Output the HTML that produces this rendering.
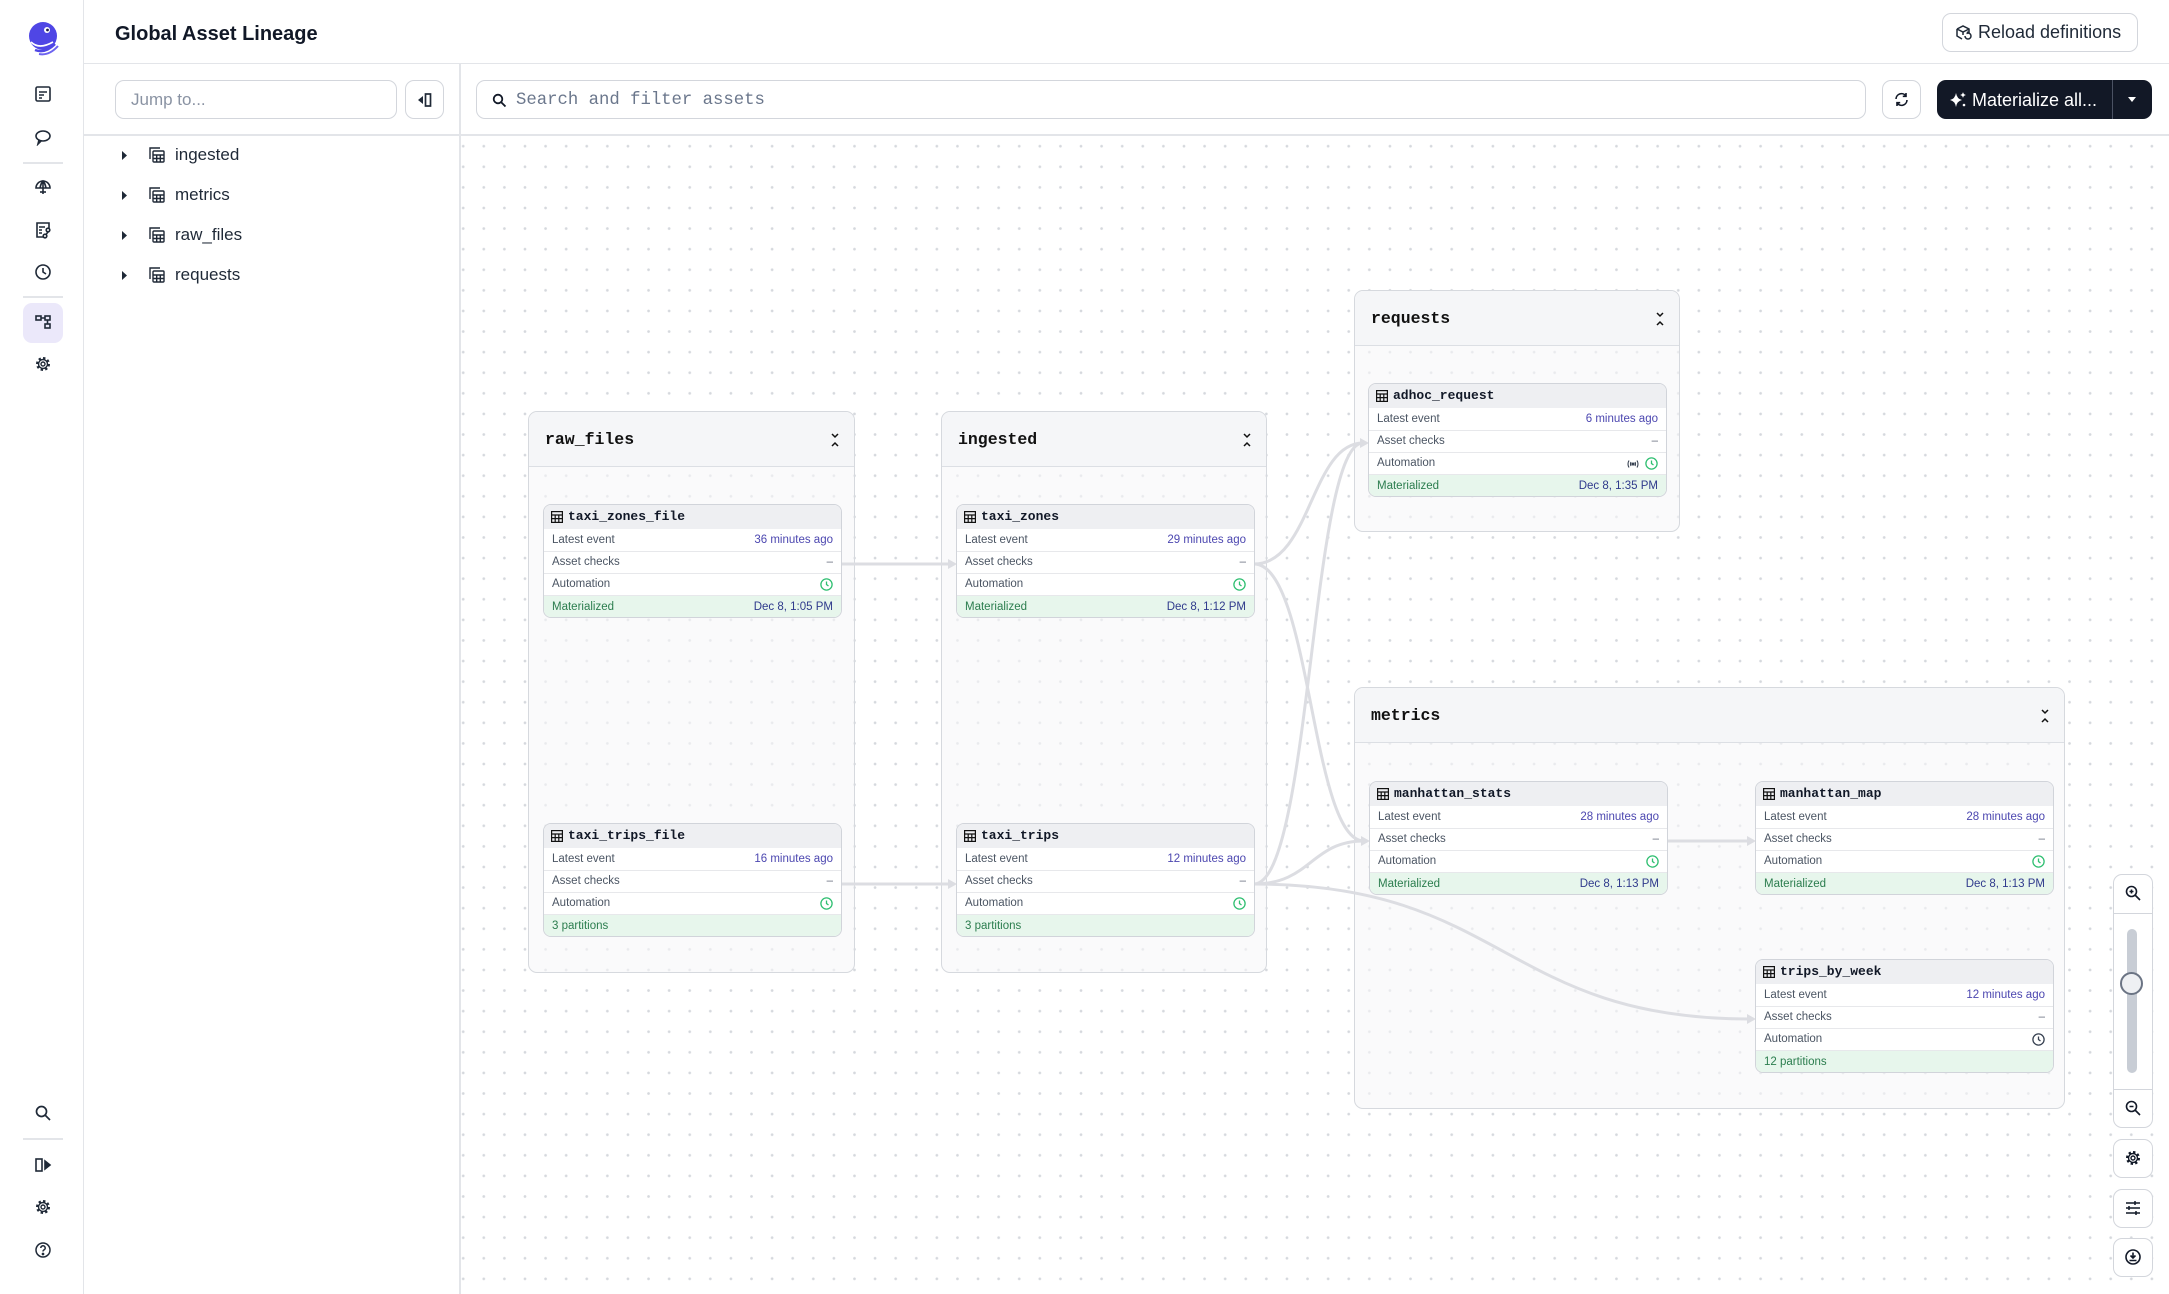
<!DOCTYPE html>
<html><head><meta charset="utf-8"><style>
*{box-sizing:border-box;margin:0;padding:0}
body{width:2169px;height:1294px;overflow:hidden;background:#fff;font-family:"Liberation Sans",sans-serif;color:#111827;position:relative}
.abs{position:absolute}
.side{left:0;top:0;width:84px;height:1294px;border-right:1.5px solid #e3e5e9;background:#fff}
.sep{position:absolute;left:23px;width:40px;height:1.5px;background:#e3e5e9}
.hdr{left:84px;top:0;right:0;height:64px;border-bottom:1.5px solid #e3e5e9}
.title{left:115px;top:23px;font-size:20px;font-weight:bold;color:#111827;letter-spacing:0}
.btn{position:absolute;border:1.5px solid #d3d6dc;border-radius:9px;background:#fff}
.tree{position:absolute;left:84px;width:376px;height:40px;font-size:17px;color:#1f2937}
.graph{left:461px;top:136px;width:1708px;height:1158px;background-image:radial-gradient(circle,#d5d8dd 1.1px,transparent 1.6px);background-size:20.6px 20.6px;background-position:-8.1px -0.1px}
.grp{position:absolute;border:1.5px solid #d6d9de;border-radius:9px;background:rgba(246,247,249,0.6);overflow:hidden}
.gh{height:55px;background:#f5f6f8;border-bottom:1.5px solid #dcdfe4;font-family:"Liberation Mono",monospace;font-weight:bold;font-size:16.5px;padding-left:16px;line-height:55px;color:#111;position:relative}
.gh svg{position:absolute;right:14px;top:21px}
.node{position:absolute;width:299px;height:114px;border:1.5px solid #d1d4da;border-radius:8px;background:#fff;overflow:hidden}
.nh{height:23.5px;background:#eeeff2;font-family:"Liberation Mono",monospace;font-weight:bold;font-size:13px;line-height:24px;padding-left:24px;position:relative;color:#111827}
.nh svg{position:absolute;left:7px;top:6px}
.row{height:22px;border-top:1px solid #e7e8eb;font-size:11.5px;line-height:21px;padding:1px 8px 0;display:flex;justify-content:space-between;align-items:center;color:#4b5563}
.row .t{color:#4c47b0}
.row .d{color:#6b7280}
.st{background:#e7f6ec;color:#2b7d4e;height:24px}
.st .dt{color:#2f3a8c}
</style></head><body>

<!-- Sidebar -->
<div class="abs side">
  <svg class="abs" style="left:25px;top:20px" width="36" height="36" viewBox="0 0 36 36">
    <circle cx="18" cy="16" r="14" fill="#4f46e5"/>
    <circle cx="22" cy="10" r="3" fill="#fff"/><circle cx="22.5" cy="10" r="1.4" fill="#1e1b4b"/>
    <path d="M6 22 Q14 30 28 22" stroke="#fff" stroke-width="1.6" fill="none"/>
    <path d="M10 30 Q20 34 30 24" stroke="#4f46e5" stroke-width="2.5" fill="none"/>
    <path d="M14 34 Q24 36 33 26" stroke="#6d63f0" stroke-width="2" fill="none"/>
  </svg>
  <svg class="abs" style="left:34px;top:85px" width="18" height="18" viewBox="0 0 18 18" fill="none" stroke="#1f2937" stroke-width="1.6"><rect x="2" y="2" width="14" height="14" rx="1.5"/><path d="M5 7h8M5 10h5M5 13h3"/></svg>
  <svg class="abs" style="left:34px;top:128px" width="18" height="18" viewBox="0 0 18 18" fill="none" stroke="#1f2937" stroke-width="1.6"><ellipse cx="9" cy="8" rx="7" ry="5"/><path d="M5 12 L4 16 L7 13"/></svg>
  <div class="sep" style="top:162px"></div>
  <svg class="abs" style="left:34px;top:178px" width="18" height="18" viewBox="0 0 18 18" fill="none" stroke="#1f2937" stroke-width="1.6"><path d="M2 10 A7 7 0 0 1 16 10 Z"/><path d="M9 3 V16 M6 10 Q7 5 9 3 Q11 5 12 10"/><path d="M6 14 h6"/></svg>
  <svg class="abs" style="left:34px;top:221px" width="18" height="18" viewBox="0 0 18 18" fill="none" stroke="#1f2937" stroke-width="1.6"><path d="M10 16H3V2h12v5"/><path d="M5 6h6M5 9h3M5 12h3"/><circle cx="14" cy="9" r="1.8"/><circle cx="11" cy="15" r="1.8"/><path d="M14 11 L12 13.5"/></svg>
  <svg class="abs" style="left:34px;top:263px" width="18" height="18" viewBox="0 0 18 18" fill="none" stroke="#1f2937" stroke-width="1.6"><circle cx="9" cy="9" r="7"/><path d="M9 5v4l3 2"/></svg>
  <div class="sep" style="top:296px"></div>
  <div class="abs" style="left:23px;top:303px;width:40px;height:40px;border-radius:9px;background:#ebe8fa"></div>
  <svg class="abs" style="left:34px;top:313px" width="18" height="18" viewBox="0 0 18 18" fill="none" stroke="#1f2937" stroke-width="1.6"><rect x="2" y="3" width="5" height="4"/><rect x="11" y="3" width="5" height="4"/><rect x="11" y="11" width="5" height="4"/><path d="M7 5h4M13.5 7v4"/></svg>
  <svg class="abs" style="left:34px;top:355px" width="18" height="18" viewBox="0 0 18 18" fill="none" stroke="#1f2937"><circle cx="9" cy="9" r="5.5" stroke-width="3" stroke-dasharray="2.2 2.1"/><circle cx="9" cy="9" r="4.5" stroke-width="1.4"/><circle cx="9" cy="9" r="2" stroke-width="1.4"/></svg>

  <svg class="abs" style="left:34px;top:1104px" width="18" height="18" viewBox="0 0 18 18" fill="none" stroke="#1f2937" stroke-width="1.7"><circle cx="7.5" cy="7.5" r="5"/><path d="M11 11l5 5"/></svg>
  <div class="sep" style="top:1138px"></div>
  <svg class="abs" style="left:34px;top:1156px" width="18" height="18" viewBox="0 0 18 18" fill="none" stroke="#1f2937" stroke-width="1.6"><rect x="2" y="3" width="6" height="12"/><path d="M11 5 L16 9 L11 13 Z" fill="#1f2937"/></svg>
  <svg class="abs" style="left:34px;top:1198px" width="18" height="18" viewBox="0 0 18 18" fill="none" stroke="#1f2937"><circle cx="9" cy="9" r="5.5" stroke-width="3" stroke-dasharray="2.2 2.1"/><circle cx="9" cy="9" r="4.5" stroke-width="1.4"/><circle cx="9" cy="9" r="2" stroke-width="1.4"/></svg>
  <svg class="abs" style="left:34px;top:1241px" width="18" height="18" viewBox="0 0 18 18" fill="none" stroke="#1f2937" stroke-width="1.5"><circle cx="9" cy="9" r="7"/><path d="M6.8 7a2.2 2.2 0 1 1 3 2c-.6.3-.8.8-.8 1.5"/><circle cx="9" cy="13" r=".6" fill="#1f2937"/></svg>
</div>

<!-- Header -->
<div class="abs hdr"></div>
<div class="abs title">Global Asset Lineage</div>
<div class="btn" style="left:1942px;top:13px;width:196px;height:39px"></div>
<svg class="abs" style="left:1954px;top:24px" width="18" height="18" viewBox="0 0 18 18" fill="none" stroke="#1f2937" stroke-width="1.5"><path d="M3 5 L9 2 L15 5 V9 M3 5 V12 L8 15 M3 5 L9 8 L15 5 M9 8 V11"/><path d="M11 12 a3 3 0 1 0 3 -3" /><path d="M13.5 7.5 L14 9 L12.5 9.5"/></svg>
<div class="abs" style="left:1978px;top:22px;font-size:18px;color:#1f2937">Reload definitions</div>

<!-- Left panel toolbar -->
<div class="abs" style="left:84px;top:134px;width:377px;height:1.5px;background:#e3e5e9"></div>
<div class="abs" style="left:459px;top:64px;width:1.5px;height:1230px;background:#e3e5e9"></div>
<div class="btn" style="left:115px;top:80px;width:282px;height:39px"></div>
<div class="abs" style="left:131px;top:90px;font-size:17px;color:#8a93a3">Jump to...</div>
<div class="btn" style="left:405px;top:80px;width:39px;height:39px"></div>
<svg class="abs" style="left:415px;top:90px" width="20" height="20" viewBox="0 0 20 20"><path d="M8 6 L3 10 L8 14 Z" fill="#1f2937"/><rect x="10.5" y="4" width="5" height="12" fill="none" stroke="#1f2937" stroke-width="1.7"/></svg>

<!-- Tree -->
<div class="tree" style="top:135px">
  <svg class="abs" style="left:37px;top:16px" width="8" height="9"><path d="M1 0 L6 4.5 L1 9 Z" fill="#1f2937"/></svg>
  <svg class="abs" style="left:65px;top:12px" width="16" height="16" viewBox="0 0 16 16" fill="none" stroke="#1f2937" stroke-width="1.4"><path d="M1 12 V1 H11"/><rect x="4" y="4" width="11" height="11" rx="1"/><path d="M4 8h11M4 11.5h11M7.7 8v7M11.3 8v7"/></svg>
  <div class="abs" style="left:91px;top:10px">ingested</div>
</div>
<div class="tree" style="top:175px">
  <svg class="abs" style="left:37px;top:16px" width="8" height="9"><path d="M1 0 L6 4.5 L1 9 Z" fill="#1f2937"/></svg>
  <svg class="abs" style="left:65px;top:12px" width="16" height="16" viewBox="0 0 16 16" fill="none" stroke="#1f2937" stroke-width="1.4"><path d="M1 12 V1 H11"/><rect x="4" y="4" width="11" height="11" rx="1"/><path d="M4 8h11M4 11.5h11M7.7 8v7M11.3 8v7"/></svg>
  <div class="abs" style="left:91px;top:10px">metrics</div>
</div>
<div class="tree" style="top:215px">
  <svg class="abs" style="left:37px;top:16px" width="8" height="9"><path d="M1 0 L6 4.5 L1 9 Z" fill="#1f2937"/></svg>
  <svg class="abs" style="left:65px;top:12px" width="16" height="16" viewBox="0 0 16 16" fill="none" stroke="#1f2937" stroke-width="1.4"><path d="M1 12 V1 H11"/><rect x="4" y="4" width="11" height="11" rx="1"/><path d="M4 8h11M4 11.5h11M7.7 8v7M11.3 8v7"/></svg>
  <div class="abs" style="left:91px;top:10px">raw_files</div>
</div>
<div class="tree" style="top:255px">
  <svg class="abs" style="left:37px;top:16px" width="8" height="9"><path d="M1 0 L6 4.5 L1 9 Z" fill="#1f2937"/></svg>
  <svg class="abs" style="left:65px;top:12px" width="16" height="16" viewBox="0 0 16 16" fill="none" stroke="#1f2937" stroke-width="1.4"><path d="M1 12 V1 H11"/><rect x="4" y="4" width="11" height="11" rx="1"/><path d="M4 8h11M4 11.5h11M7.7 8v7M11.3 8v7"/></svg>
  <div class="abs" style="left:91px;top:10px">requests</div>
</div>

<!-- Graph area -->
<div class="abs graph"></div>
<div class="abs" style="left:461px;top:134px;width:1708px;height:1.5px;background:#e3e5e9"></div>

<!-- Graph toolbar -->
<div class="btn" style="left:476px;top:80px;width:1390px;height:39px"></div>
<svg class="abs" style="left:492px;top:93px" width="15" height="15" viewBox="0 0 15 15" fill="none" stroke="#111827" stroke-width="1.8"><circle cx="6" cy="6" r="4.3"/><path d="M9.2 9.2 L13.5 13.5"/></svg>
<div class="abs" style="left:516px;top:91px;font-family:'Liberation Mono',monospace;font-size:17.3px;color:#6b778c">Search and filter assets</div>
<div class="btn" style="left:1882px;top:80px;width:39px;height:39px"></div>
<svg class="abs" style="left:1893px;top:91px" width="17" height="17" viewBox="0 0 17 17" fill="none" stroke="#111827" stroke-width="1.6"><path d="M3 8 A5.5 5.5 0 0 1 13 5"/><path d="M14 9 A5.5 5.5 0 0 1 4 12"/><path d="M13 2 V5.3 H9.8"/><path d="M4 15 V11.7 H7.2"/></svg>
<div class="abs" style="left:1937px;top:80px;width:215px;height:39px;background:#121826;border-radius:9px"></div>
<div class="abs" style="left:2112px;top:80px;width:1px;height:39px;background:#4b5263"></div>
<svg class="abs" style="left:1948px;top:90px" width="20" height="20" viewBox="0 0 20 20" fill="#fff"><path d="M8 3 Q9 9 14 10 Q9 11 8 17 Q7 11 2 10 Q7 9 8 3Z"/><path d="M15 2 Q15.4 4.6 18 5 Q15.4 5.4 15 8 Q14.6 5.4 12 5 Q14.6 4.6 15 2Z"/><circle cx="16" cy="15" r="1.3"/></svg>
<div class="abs" style="left:1972px;top:90px;font-size:18px;color:#fff">Materialize all...</div>
<svg class="abs" style="left:2127px;top:96px" width="10" height="7"><path d="M1 1 L5 6 L9 1 Z" fill="#fff"/></svg>

<!-- Groups -->
<div class="grp" style="left:528px;top:411px;width:327px;height:562px"><div class="gh">raw_files<svg width="10" height="14" viewBox="0 0 10 14" fill="none" stroke="#111" stroke-width="1.5"><path d="M2 1 L5 4 L8 1M2 13 L5 10 L8 13"/></svg></div></div>
<div class="grp" style="left:941px;top:411px;width:326px;height:562px"><div class="gh">ingested<svg width="10" height="14" viewBox="0 0 10 14" fill="none" stroke="#111" stroke-width="1.5"><path d="M2 1 L5 4 L8 1M2 13 L5 10 L8 13"/></svg></div></div>
<div class="grp" style="left:1354px;top:290px;width:326px;height:242px"><div class="gh">requests<svg width="10" height="14" viewBox="0 0 10 14" fill="none" stroke="#111" stroke-width="1.5"><path d="M2 1 L5 4 L8 1M2 13 L5 10 L8 13"/></svg></div></div>
<div class="grp" style="left:1354px;top:687px;width:711px;height:422px"><div class="gh">metrics<svg width="10" height="14" viewBox="0 0 10 14" fill="none" stroke="#111" stroke-width="1.5"><path d="M2 1 L5 4 L8 1M2 13 L5 10 L8 13"/></svg></div></div>

<!-- Edges -->
<svg class="abs" style="left:0;top:0" width="2169" height="1294" fill="none">
  <g stroke="#dcdde2" stroke-width="3">
    <path d="M842 564 L951 564"/>
    <path d="M842 884 L951 884"/>
    <path d="M1254 564 C1311 564 1311 443 1363 443"/>
    <path d="M1254 564 C1311 564 1311 841 1364 841"/>
    <path d="M1254 884 C1311 884 1311 443 1363 443"/>
    <path d="M1254 884 C1311 884 1311 841 1364 841"/>
    <path d="M1254 884 C1504 884 1504 1019 1750 1019"/>
    <path d="M1668 841 L1750 841"/>
  </g>
  <g fill="#dcdde2">
    <path d="M948 559 L957 564 L948 569Z"/>
    <path d="M948 879 L957 884 L948 889Z"/>
    <path d="M1360 438 L1369 443 L1360 448Z"/>
    <path d="M1361 836 L1370 841 L1361 846Z"/>
    <path d="M1747 1014 L1756 1019 L1747 1024Z"/>
    <path d="M1747 836 L1756 841 L1747 846Z"/>
  </g>
</svg>

<!-- Nodes -->
<div class="node" style="left:543px;top:504px">
  <div class="nh"><svg width="12" height="12" viewBox="0 0 12 12" fill="none" stroke="#111" stroke-width="1.2"><rect x=".6" y=".6" width="10.8" height="10.8"/><path d="M.6 4h10.8M.6 7.6h10.8M4.2 4v7.4M7.8 4v7.4"/></svg>taxi_zones_file</div>
  <div class="row" style="border-top:none"><span>Latest event</span><span class="t">36 minutes ago</span></div>
  <div class="row"><span>Asset checks</span><span class="d">–</span></div>
  <div class="row"><span>Automation</span><svg width="13" height="13" viewBox="0 0 13 13" fill="none" stroke="#2fbf71" stroke-width="1.3"><circle cx="6.5" cy="6.5" r="5.6"/><path d="M6.5 3.5v3l2 1.5"/></svg></div>
  <div class="row st"><span>Materialized</span><span class="dt">Dec 8, 1:05 PM</span></div>
</div>
<div class="node" style="left:543px;top:823px">
  <div class="nh"><svg width="12" height="12" viewBox="0 0 12 12" fill="none" stroke="#111" stroke-width="1.2"><rect x=".6" y=".6" width="10.8" height="10.8"/><path d="M.6 4h10.8M.6 7.6h10.8M4.2 4v7.4M7.8 4v7.4"/></svg>taxi_trips_file</div>
  <div class="row" style="border-top:none"><span>Latest event</span><span class="t">16 minutes ago</span></div>
  <div class="row"><span>Asset checks</span><span class="d">–</span></div>
  <div class="row"><span>Automation</span><svg width="13" height="13" viewBox="0 0 13 13" fill="none" stroke="#2fbf71" stroke-width="1.3"><circle cx="6.5" cy="6.5" r="5.6"/><path d="M6.5 3.5v3l2 1.5"/></svg></div>
  <div class="row st"><span>3 partitions</span><span></span></div>
</div>
<div class="node" style="left:956px;top:504px">
  <div class="nh"><svg width="12" height="12" viewBox="0 0 12 12" fill="none" stroke="#111" stroke-width="1.2"><rect x=".6" y=".6" width="10.8" height="10.8"/><path d="M.6 4h10.8M.6 7.6h10.8M4.2 4v7.4M7.8 4v7.4"/></svg>taxi_zones</div>
  <div class="row" style="border-top:none"><span>Latest event</span><span class="t">29 minutes ago</span></div>
  <div class="row"><span>Asset checks</span><span class="d">–</span></div>
  <div class="row"><span>Automation</span><svg width="13" height="13" viewBox="0 0 13 13" fill="none" stroke="#2fbf71" stroke-width="1.3"><circle cx="6.5" cy="6.5" r="5.6"/><path d="M6.5 3.5v3l2 1.5"/></svg></div>
  <div class="row st"><span>Materialized</span><span class="dt">Dec 8, 1:12 PM</span></div>
</div>
<div class="node" style="left:956px;top:823px">
  <div class="nh"><svg width="12" height="12" viewBox="0 0 12 12" fill="none" stroke="#111" stroke-width="1.2"><rect x=".6" y=".6" width="10.8" height="10.8"/><path d="M.6 4h10.8M.6 7.6h10.8M4.2 4v7.4M7.8 4v7.4"/></svg>taxi_trips</div>
  <div class="row" style="border-top:none"><span>Latest event</span><span class="t">12 minutes ago</span></div>
  <div class="row"><span>Asset checks</span><span class="d">–</span></div>
  <div class="row"><span>Automation</span><svg width="13" height="13" viewBox="0 0 13 13" fill="none" stroke="#2fbf71" stroke-width="1.3"><circle cx="6.5" cy="6.5" r="5.6"/><path d="M6.5 3.5v3l2 1.5"/></svg></div>
  <div class="row st"><span>3 partitions</span><span></span></div>
</div>
<div class="node" style="left:1368px;top:383px">
  <div class="nh"><svg width="12" height="12" viewBox="0 0 12 12" fill="none" stroke="#111" stroke-width="1.2"><rect x=".6" y=".6" width="10.8" height="10.8"/><path d="M.6 4h10.8M.6 7.6h10.8M4.2 4v7.4M7.8 4v7.4"/></svg>adhoc_request</div>
  <div class="row" style="border-top:none"><span>Latest event</span><span class="t">6 minutes ago</span></div>
  <div class="row"><span>Asset checks</span><span class="d">–</span></div>
  <div class="row"><span>Automation</span><span style="display:flex;align-items:center;gap:5px"><svg width="14" height="10" viewBox="0 0 14 10" fill="none" stroke="#374151" stroke-width="1.1"><path d="M3 1.5 Q1 5 3 8.5M11 1.5 Q13 5 11 8.5M5 3 Q4 5 5 7M9 3 Q10 5 9 7"/><circle cx="7" cy="5" r="1" fill="#374151"/></svg><svg width="13" height="13" viewBox="0 0 13 13" fill="none" stroke="#2fbf71" stroke-width="1.3"><circle cx="6.5" cy="6.5" r="5.6"/><path d="M6.5 3.5v3l2 1.5"/></svg></span></div>
  <div class="row st"><span>Materialized</span><span class="dt">Dec 8, 1:35 PM</span></div>
</div>
<div class="node" style="left:1369px;top:781px">
  <div class="nh"><svg width="12" height="12" viewBox="0 0 12 12" fill="none" stroke="#111" stroke-width="1.2"><rect x=".6" y=".6" width="10.8" height="10.8"/><path d="M.6 4h10.8M.6 7.6h10.8M4.2 4v7.4M7.8 4v7.4"/></svg>manhattan_stats</div>
  <div class="row" style="border-top:none"><span>Latest event</span><span class="t">28 minutes ago</span></div>
  <div class="row"><span>Asset checks</span><span class="d">–</span></div>
  <div class="row"><span>Automation</span><svg width="13" height="13" viewBox="0 0 13 13" fill="none" stroke="#2fbf71" stroke-width="1.3"><circle cx="6.5" cy="6.5" r="5.6"/><path d="M6.5 3.5v3l2 1.5"/></svg></div>
  <div class="row st"><span>Materialized</span><span class="dt">Dec 8, 1:13 PM</span></div>
</div>
<div class="node" style="left:1755px;top:781px">
  <div class="nh"><svg width="12" height="12" viewBox="0 0 12 12" fill="none" stroke="#111" stroke-width="1.2"><rect x=".6" y=".6" width="10.8" height="10.8"/><path d="M.6 4h10.8M.6 7.6h10.8M4.2 4v7.4M7.8 4v7.4"/></svg>manhattan_map</div>
  <div class="row" style="border-top:none"><span>Latest event</span><span class="t">28 minutes ago</span></div>
  <div class="row"><span>Asset checks</span><span class="d">–</span></div>
  <div class="row"><span>Automation</span><svg width="13" height="13" viewBox="0 0 13 13" fill="none" stroke="#2fbf71" stroke-width="1.3"><circle cx="6.5" cy="6.5" r="5.6"/><path d="M6.5 3.5v3l2 1.5"/></svg></div>
  <div class="row st"><span>Materialized</span><span class="dt">Dec 8, 1:13 PM</span></div>
</div>
<div class="node" style="left:1755px;top:959px">
  <div class="nh"><svg width="12" height="12" viewBox="0 0 12 12" fill="none" stroke="#111" stroke-width="1.2"><rect x=".6" y=".6" width="10.8" height="10.8"/><path d="M.6 4h10.8M.6 7.6h10.8M4.2 4v7.4M7.8 4v7.4"/></svg>trips_by_week</div>
  <div class="row" style="border-top:none"><span>Latest event</span><span class="t">12 minutes ago</span></div>
  <div class="row"><span>Asset checks</span><span class="d">–</span></div>
  <div class="row"><span>Automation</span><svg width="13" height="13" viewBox="0 0 13 13" fill="none" stroke="#374151" stroke-width="1.3"><circle cx="6.5" cy="6.5" r="5.6"/><path d="M6.5 3.5v3l2 1.5"/></svg></div>
  <div class="row st"><span>12 partitions</span><span></span></div>
</div>

<!-- Zoom controls -->
<div class="btn" style="left:2113px;top:874px;width:40px;height:254px"></div>
<div class="abs" style="left:2114px;top:913px;width:38px;height:1.2px;background:#d3d6dc"></div>
<div class="abs" style="left:2114px;top:1089px;width:38px;height:1.2px;background:#d3d6dc"></div>
<svg class="abs" style="left:2124px;top:884px" width="18" height="18" viewBox="0 0 18 18" fill="none" stroke="#111827" stroke-width="1.6"><circle cx="7.5" cy="7.5" r="5"/><path d="M11 11l5 5M5.5 7.5h4M7.5 5.5v4"/></svg>
<div class="abs" style="left:2127px;top:929px;width:10px;height:144px;border-radius:5px;background:#c8cdd5"></div>
<div class="abs" style="left:2120px;top:972px;width:23px;height:23px;border-radius:50%;background:#eef0f3;border:2px solid #6b7484"></div>
<svg class="abs" style="left:2124px;top:1099px" width="18" height="18" viewBox="0 0 18 18" fill="none" stroke="#111827" stroke-width="1.6"><circle cx="7.5" cy="7.5" r="5"/><path d="M11 11l5 5M5.5 7.5h4"/></svg>
<div class="btn" style="left:2113px;top:1139px;width:40px;height:39px"></div>
<svg class="abs" style="left:2124px;top:1149px" width="18" height="18" viewBox="0 0 18 18" fill="none" stroke="#111827"><circle cx="9" cy="9" r="5.5" stroke-width="3" stroke-dasharray="2.2 2.1"/><circle cx="9" cy="9" r="4.5" stroke-width="1.4"/><circle cx="9" cy="9" r="2" stroke-width="1.4"/></svg>
<div class="btn" style="left:2113px;top:1189px;width:40px;height:39px"></div>
<svg class="abs" style="left:2124px;top:1199px" width="18" height="18" viewBox="0 0 18 18" fill="none" stroke="#111827" stroke-width="1.5"><path d="M2 4h14M2 9h14M2 14h14"/><path d="M11 2v4M5 7v4M12 12v4"/></svg>
<div class="btn" style="left:2113px;top:1238px;width:40px;height:39px"></div>
<svg class="abs" style="left:2124px;top:1248px" width="18" height="18" viewBox="0 0 18 18" fill="none" stroke="#111827" stroke-width="1.6"><circle cx="9" cy="9" r="7"/><path d="M9 4.5v5.5M6.5 7.5L9 10l2.5-2.5M5.5 12.5h7"/></svg>

</body></html>
